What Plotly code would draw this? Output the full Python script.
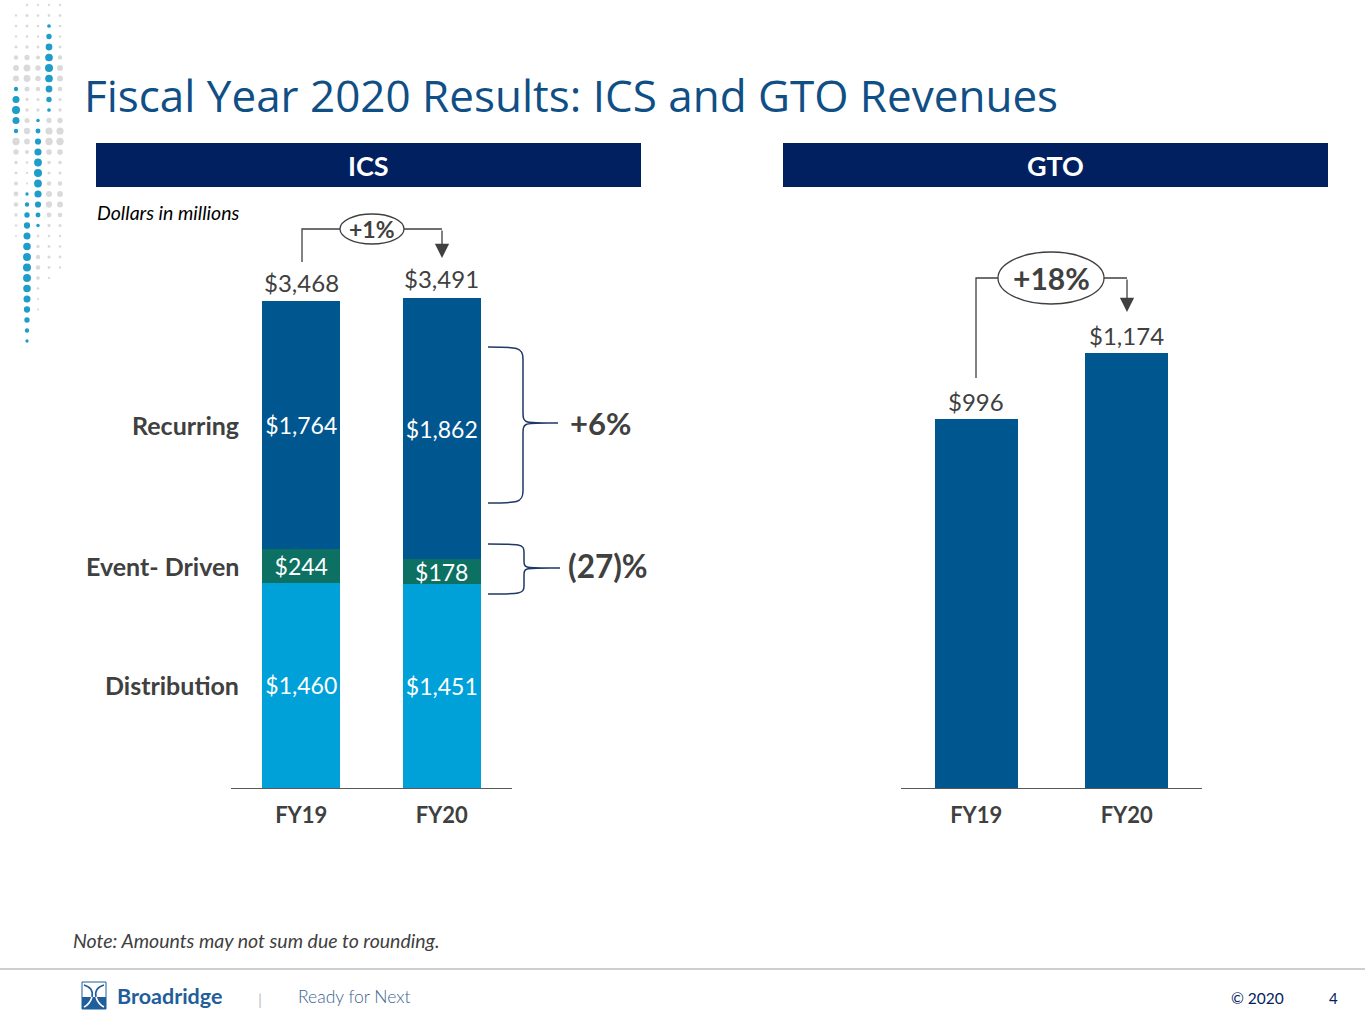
import math
import plotly.graph_objects as go

W, H = 1365, 1024

# data
years = ["FY19", "FY20"]
ics_segments = ["Distribution", "Event- Driven", "Recurring"]
ics_distribution = [1460, 1451]
ics_event_driven = [244, 178]
ics_recurring = [1764, 1862]
ics_totals = [3468, 3491]
gto_revenue = [996, 1174]
ics_growth = "+1%"
gto_growth = "+18%"
recurring_growth = "+6%"
event_growth = "(27)%"

FONT = "Lato"
GRAY = "#404040"
NAVY = "#002060"
TITLE_BLUE = "#0F4F86"
C_RECURRING = "#00568F"
C_EVENT = "#0C7063"
C_DISTRIB = "#00A1D8"
C_GTO = "#00568F"
BRACE = "#1F3864"
DOT_BLUE = "#1E9DCB"
DOT_GRAY = "#DADADA"


def px(x):
    return x / W


def py(y):
    return 1 - y / H


def pth(cmds):
    # cmds: list of (letter, x, y, ...) in page pixels -> paper path
    out = []
    for c in cmds:
        letter, nums = c[0], c[1:]
        pts = []
        for i in range(0, len(nums), 2):
            pts.append(f"{px(nums[i]):.5f},{py(nums[i + 1]):.5f}")
        out.append(letter + " " + " ".join(pts))
    return " ".join(out)


def brace(xl, xs, xt, yt, ym, yb, r=9):
    return pth([
        ("M", xl, yt), ("C", xs - r / 2, yt, xs, yt, xs, yt + r), ("L", xs, ym - r),
        ("C", xs, ym, xs, ym, xt - 10, ym), ("L", xt, ym),
        ("M", xt - 10, ym), ("C", xs, ym, xs, ym, xs, ym + r), ("L", xs, yb - r),
        ("C", xs, yb, xs - r / 2, yb, xl, yb),
    ])


def note(text, x, y, size, color=GRAY, xanchor="center", **font):
    return dict(text=text, x=px(x), y=py(y), xref="paper", yref="paper", xanchor=xanchor, yanchor="middle",
                showarrow=False, font=dict(family=font.pop("family", FONT), size=size, color=color, **font))


fig = go.Figure()

ics_x = [0, 1]
for name, vals, color in zip(ics_segments, [ics_distribution, ics_event_driven, ics_recurring],
                             [C_DISTRIB, C_EVENT, C_RECURRING]):
    fig.add_trace(go.Bar(
        x=ics_x, y=vals, name=name, width=0.555, marker=dict(color=color, line=dict(width=0)),
        text=[f"${v:,}" for v in vals], textposition="inside", insidetextanchor="middle",
        textangle=0, constraintext="none", cliponaxis=False,
        textfont=dict(family=FONT, size=23, color="white"), xaxis="x", yaxis="y",
    ))

fig.add_trace(go.Bar(
    x=[0, 1], y=gto_revenue, name="GTO", width=0.55, marker=dict(color=C_GTO, line=dict(width=0)),
    xaxis="x2", yaxis="y2",
))

# scale: ICS 487px for 3468, GTO 369px for 996, plot height 588px
ics_top = 588 / (487 / ics_totals[0])
gto_top = 588 / (369 / gto_revenue[0])

xaxis_common = dict(range=[-0.5, 1.5], tickvals=[0, 1], ticktext=years, showgrid=False, zeroline=False,
                    showline=True, linecolor="#595959", linewidth=1.3, ticks="",
                    ticklabelstandoff=7, fixedrange=True,
                    tickfont=dict(family=FONT, size=22, color=GRAY, weight="bold"))
yaxis_common = dict(visible=False, showgrid=False, zeroline=False, domain=[py(788), py(200)], fixedrange=True)

fig.update_layout(
    width=W, height=H, margin=dict(l=0, r=0, t=0, b=0),
    paper_bgcolor="white", plot_bgcolor="rgba(0,0,0,0)",
    barmode="stack", showlegend=False, hovermode=False,
    font=dict(family=FONT, color=GRAY),
    xaxis=dict(domain=[px(231), px(512)], anchor="y", **xaxis_common),
    yaxis=dict(range=[0, ics_top], anchor="x", **yaxis_common),
    xaxis2=dict(domain=[px(901), px(1202)], anchor="y2", **xaxis_common),
    yaxis2=dict(range=[0, gto_top], anchor="x2", **yaxis_common),
)

shapes = []
ann = []

# decorative dot stripe at top-left
cols_x = [16, 27, 38, 49, 60]
blue_runs = {0: (8, 12), 1: (18, 32), 2: (11, 21), 3: (2, 10)}
gray_runs = {0: (1, 22), 1: (0, 17), 2: (0, 29), 3: (0, 26), 4: (0, 25)}
for ci, cx in enumerate(cols_x):
    for r in range(33):
        cy = 5 + 10.5 * r
        br = blue_runs.get(ci)
        if br and br[0] <= r <= br[1]:
            t = (r - br[0] + 0.5) / (br[1] - br[0] + 1)
            rad = 1.4 + 2.6 * math.sin(math.pi * t)
            col = DOT_BLUE
        elif gray_runs[ci][0] <= r <= gray_runs[ci][1]:
            g0, g1 = gray_runs[ci]
            t = (r - g0 + 0.5) / (g1 - g0 + 1)
            rad = 1.0 + 2.8 * math.sin(math.pi * t) * (0.6 + 0.4 * math.cos(r))
            col = DOT_GRAY
        else:
            continue
        rad = max(rad, 1.0)
        shapes.append(dict(type="circle", xref="paper", yref="paper", x0=px(cx - rad), x1=px(cx + rad),
                           y0=py(cy + rad), y1=py(cy - rad), fillcolor=col, line=dict(width=0), layer="below"))

# title
ann.append(note("Fiscal Year 2020 Results: ICS and GTO Revenues", 82, 95, 44, color=TITLE_BLUE,
                xanchor="left", family="Open Sans"))

# section header bars
for label, x0, x1 in [("ICS", 96, 641), ("GTO", 783, 1328)]:
    shapes.append(dict(type="rect", xref="paper", yref="paper", x0=px(x0), x1=px(x1), y0=py(187), y1=py(143),
                       fillcolor=NAVY, line=dict(width=0)))
    ann.append(note(label, (x0 + x1) / 2, 165, 27, color="white", weight="bold"))

ann.append(note("<i>Dollars in millions</i>", 95, 212, 19.5, color="black", xanchor="left"))

# segment labels beside FY19 stack
base = 0
for name, vals in zip(ics_segments, [ics_distribution, ics_event_driven, ics_recurring]):
    ann.append(dict(text=name, x=px(241), y=base + vals[0] / 2, xref="paper", yref="y", xanchor="right",
                    yanchor="middle", showarrow=False,
                    font=dict(family=FONT, size=25, color=GRAY, weight="bold")))
    base += vals[0]

# totals above bars
for i, v in enumerate(ics_totals):
    ann.append(dict(text=f"${v:,}", x=ics_x[i], y=v, xref="x", yref="y", yshift=19, yanchor="middle",
                    showarrow=False, font=dict(family=FONT, size=24, color=GRAY)))
for i, v in enumerate(gto_revenue):
    ann.append(dict(text=f"${v:,}", x=i, y=v, xref="x2", yref="y2", yshift=18, yanchor="middle",
                    showarrow=False, font=dict(family=FONT, size=24, color=GRAY)))

# growth brackets
line_style = dict(color=GRAY, width=1.3)
shapes.append(dict(type="path", xref="paper", yref="paper", line=line_style,
                   path=pth([("M", 302, 262), ("L", 302, 229), ("L", 340, 229), ("M", 404, 229), ("L", 442, 229)])))
shapes.append(dict(type="circle", xref="paper", yref="paper", x0=px(340), x1=px(404), y0=py(244), y1=py(214),
                   fillcolor="white", line=line_style))
ann.append(note(ics_growth, 372, 229, 23, weight="bold"))
ann.append(dict(text="", x=px(442), y=py(258), xref="paper", yref="paper", ax=0, ay=-29, showarrow=True,
                arrowhead=2, arrowsize=2.2, arrowwidth=1.3, arrowcolor=GRAY))

shapes.append(dict(type="path", xref="paper", yref="paper", line=line_style,
                   path=pth([("M", 976, 378), ("L", 976, 278), ("L", 998, 278), ("M", 1104, 278), ("L", 1127, 278)])))
shapes.append(dict(type="circle", xref="paper", yref="paper", x0=px(998), x1=px(1104), y0=py(304), y1=py(252),
                   fillcolor="white", line=line_style))
ann.append(note(gto_growth, 1051, 278, 30, weight="bold"))
ann.append(dict(text="", x=px(1127), y=py(312), xref="paper", yref="paper", ax=0, ay=-34, showarrow=True,
                arrowhead=2, arrowsize=2.2, arrowwidth=1.3, arrowcolor=GRAY))

# braces for segment growth
shapes.append(dict(type="path", xref="paper", yref="paper", line=dict(color=BRACE, width=1.5),
                   path=brace(488, 523, 558, 347, 423, 503, r=12)))
shapes.append(dict(type="path", xref="paper", yref="paper", line=dict(color=BRACE, width=1.5),
                   path=brace(488, 524, 560, 544, 568, 594, r=8)))
ann.append(note(recurring_growth, 568, 423, 31, xanchor="left", weight="bold"))
ann.append(note(event_growth, 566, 566, 31.5, xanchor="left", weight="bold"))

# footer
ann.append(note("<i>Note: Amounts may not sum due to rounding.</i>", 71, 940, 19.5, xanchor="left"))
shapes.append(dict(type="line", xref="paper", yref="paper", x0=0, x1=1, y0=py(969), y1=py(969),
                   line=dict(color="#BFBFBF", width=1.5)))

# logo mark
LOGO = "#1F5E9A"
shapes.append(dict(type="rect", xref="paper", yref="paper", x0=px(82), x1=px(106), y0=py(1009), y1=py(982),
                   fillcolor="white", line=dict(color=LOGO, width=1)))
shapes.append(dict(type="rect", xref="paper", yref="paper", x0=px(82), x1=px(106), y0=py(1009), y1=py(997),
                   fillcolor=LOGO, line=dict(width=0)))
shapes.append(dict(type="path", xref="paper", yref="paper", line=dict(color=LOGO, width=1.6),
                   path=pth([("M", 84, 985), ("Q", 94, 988, 92, 997), ("M", 104, 985), ("Q", 94, 988, 96, 997)])))
shapes.append(dict(type="path", xref="paper", yref="paper", line=dict(color="white", width=1.6),
                   path=pth([("M", 92, 997), ("Q", 90, 1004, 84, 1007), ("M", 96, 997), ("Q", 98, 1004, 104, 1007)])))
ann.append(note("Broadridge", 115, 996, 21.5, color=LOGO, xanchor="left", weight="bold"))
ann.append(note("|", 260, 998, 16, color="#BFBFBF"))
ann.append(note("Ready for Next", 296, 996, 17.5, color="#3B6590", xanchor="left", weight=300))
ann.append(note("© 2020", 1229, 998, 15.5, color=NAVY, xanchor="left"))
ann.append(note("4", 1333, 998, 15, color=NAVY))

fig.update_layout(shapes=shapes, annotations=ann)
fig.write_html("out.html", config={"displayModeBar": False},
               post_script="document.body.style.margin='0px';")
